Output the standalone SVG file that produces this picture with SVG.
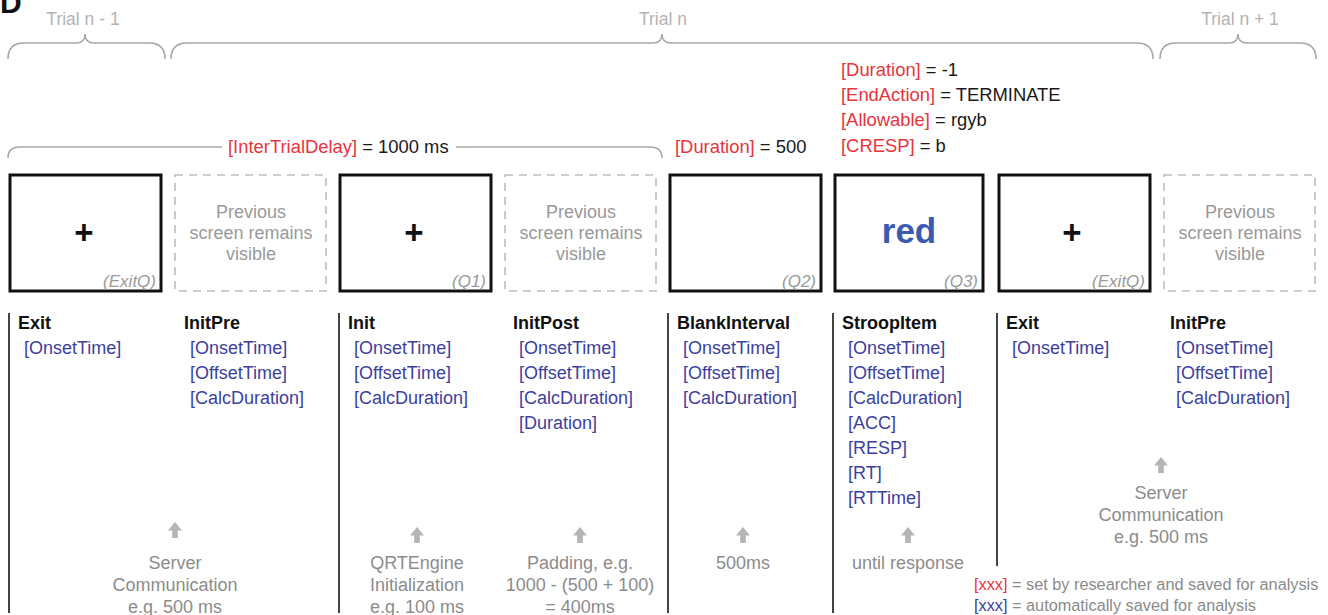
<svg xmlns="http://www.w3.org/2000/svg" width="1328" height="615" viewBox="0 0 1328 615">
<defs>
<style>
text{font-family:"Liberation Sans",Arial,sans-serif;}
.trial{font-size:17.5px;fill:#b3b3b3;text-anchor:middle;}
.brace{fill:none;stroke:#a8a8a8;stroke-width:1.6;}
.param{font-size:18.4px;fill:#1a1a1a;}
.r{fill:#e8343c;}
.b{fill:#3c3f9e;}
.solid{fill:#fff;stroke:#111;stroke-width:3;}
.dash{fill:#fff;stroke:#bdbdbd;stroke-width:1.6;stroke-dasharray:8 6;}
.prev{font-size:18px;fill:#999;text-anchor:middle;}
.q{font-size:17px;fill:#9a9a9a;font-style:italic;text-anchor:end;}
.plus{font-size:33px;font-weight:bold;fill:#111;text-anchor:middle;}
.hdr{font-size:18px;font-weight:bold;fill:#111;}
.item{font-size:18px;fill:#3c3f9e;}
.tl{stroke:#444;stroke-width:2;fill:none;}
.note{font-size:18px;fill:#8c8c8c;text-anchor:middle;}
.arr{fill:#b5b5b5;}
.leg{font-size:16.3px;fill:#8a8a8a;}
</style>
<path id="up" d="M0,0 L7,8.5 L2.8,8.5 L2.8,16 L-2.8,16 L-2.8,8.5 L-7,8.5 Z"/>
</defs>
<rect width="1328" height="615" fill="#fff"/>
<text x="0" y="13" font-size="30" font-weight="bold" fill="#111">D</text>

<g id="trial-braces">
<text class="trial" x="83" y="25">Trial n - 1</text>
<text class="trial" x="663" y="25">Trial n</text>
<text class="trial" x="1240" y="25">Trial n + 1</text>
<path class="brace" d="M8,59 Q8,43 24,43 H76 Q85,43 85,34 Q85,43 94,43 H149 Q165,43 165,59"/>
<path class="brace" d="M171,59 Q171,43 187,43 H653 Q662,43 662,34 Q662,43 671,43 H1137 Q1153,43 1153,59"/>
<path class="brace" d="M1160,59 Q1160,43 1176,43 H1229 Q1238,43 1238,34 Q1238,43 1247,43 H1300 Q1316,43 1316,59"/>
</g>

<g id="params">
<path class="brace" d="M8,158 Q8,147 20,147 H222 M456,147 H650 Q662,147 662,158"/>
<text class="param" x="228" y="153"><tspan class="r">[InterTrialDelay]</tspan> = 1000 ms</text>
<text class="param" x="675" y="153"><tspan class="r">[Duration]</tspan> = 500</text>
<text class="param" x="841" y="76"><tspan class="r">[Duration]</tspan> = -1</text>
<text class="param" x="841" y="101"><tspan class="r">[EndAction]</tspan> = TERMINATE</text>
<text class="param" x="841" y="126"><tspan class="r">[Allowable]</tspan> = rgyb</text>
<text class="param" x="841" y="152"><tspan class="r">[CRESP]</tspan> = b</text>
</g>

<g id="screen-exitq-1">
<rect class="solid" x="10" y="175" width="151" height="116"/>
<text class="plus" x="84" y="244">+</text>
<text class="q" x="156" y="287">(ExitQ)</text>
</g>
<g id="screen-prev-1">
<rect class="dash" x="175" y="175" width="151" height="116"/>
<text class="prev" x="251" y="218">Previous</text>
<text class="prev" x="251" y="239">screen remains</text>
<text class="prev" x="251" y="260">visible</text>
</g>
<g id="screen-q1">
<rect class="solid" x="340" y="175" width="151" height="116"/>
<text class="plus" x="414" y="244">+</text>
<text class="q" x="486" y="287">(Q1)</text>
</g>
<g id="screen-prev-2">
<rect class="dash" x="505" y="175" width="151" height="116"/>
<text class="prev" x="581" y="218">Previous</text>
<text class="prev" x="581" y="239">screen remains</text>
<text class="prev" x="581" y="260">visible</text>
</g>
<g id="screen-q2">
<rect class="solid" x="670" y="175" width="151" height="116"/>
<text class="q" x="816" y="287">(Q2)</text>
</g>
<g id="screen-q3">
<rect class="solid" x="835" y="175" width="148" height="116"/>
<text x="909" y="243" font-size="35" font-weight="bold" fill="#3a5bb0" text-anchor="middle">red</text>
<text class="q" x="978" y="287">(Q3)</text>
</g>
<g id="screen-exitq-2">
<rect class="solid" x="999" y="175" width="151" height="116"/>
<text class="plus" x="1072" y="244">+</text>
<text class="q" x="1145" y="287">(ExitQ)</text>
</g>
<g id="screen-prev-3">
<rect class="dash" x="1164" y="175" width="151" height="116"/>
<text class="prev" x="1240" y="218">Previous</text>
<text class="prev" x="1240" y="239">screen remains</text>
<text class="prev" x="1240" y="260">visible</text>
</g>

<g id="connectors">
<line class="tl" x1="9" y1="313" x2="9" y2="613"/>
<line class="tl" x1="339" y1="313" x2="339" y2="613"/>
<line class="tl" x1="668" y1="313" x2="668" y2="613"/>
<line class="tl" x1="833" y1="313" x2="833" y2="613"/>
<line class="tl" x1="997" y1="313" x2="997" y2="566"/>
</g>

<g id="obj-exit-1">
<text class="hdr" x="18" y="329">Exit</text>
<text class="item" x="24" y="354">[OnsetTime]</text>
</g>
<g id="obj-initpre-1">
<text class="hdr" x="184" y="329">InitPre</text>
<text class="item" x="190" y="354">[OnsetTime]</text>
<text class="item" x="190" y="379">[OffsetTime]</text>
<text class="item" x="190" y="404">[CalcDuration]</text>
<use href="#up" class="arr" x="175" y="522"/>
<text class="note" x="175" y="569">Server</text>
<text class="note" x="175" y="591">Communication</text>
<text class="note" x="175" y="613">e.g. 500 ms</text>
</g>
<g id="obj-init">
<text class="hdr" x="348" y="329">Init</text>
<text class="item" x="354" y="354">[OnsetTime]</text>
<text class="item" x="354" y="379">[OffsetTime]</text>
<text class="item" x="354" y="404">[CalcDuration]</text>
<use href="#up" class="arr" x="417" y="527"/>
<text class="note" x="417" y="569">QRTEngine</text>
<text class="note" x="417" y="591">Initialization</text>
<text class="note" x="417" y="613">e.g. 100 ms</text>
</g>
<g id="obj-initpost">
<text class="hdr" x="513" y="329">InitPost</text>
<text class="item" x="519" y="354">[OnsetTime]</text>
<text class="item" x="519" y="379">[OffsetTime]</text>
<text class="item" x="519" y="404">[CalcDuration]</text>
<text class="item" x="519" y="429">[Duration]</text>
<use href="#up" class="arr" x="580" y="527"/>
<text class="note" x="580" y="569">Padding, e.g.</text>
<text class="note" x="580" y="591">1000 - (500 + 100)</text>
<text class="note" x="580" y="613">= 400ms</text>
</g>
<g id="obj-blank">
<text class="hdr" x="677" y="329">BlankInterval</text>
<text class="item" x="683" y="354">[OnsetTime]</text>
<text class="item" x="683" y="379">[OffsetTime]</text>
<text class="item" x="683" y="404">[CalcDuration]</text>
<use href="#up" class="arr" x="743" y="527"/>
<text class="note" x="743" y="569">500ms</text>
</g>
<g id="obj-stroop">
<text class="hdr" x="842" y="329">StroopItem</text>
<text class="item" x="848" y="354">[OnsetTime]</text>
<text class="item" x="848" y="379">[OffsetTime]</text>
<text class="item" x="848" y="404">[CalcDuration]</text>
<text class="item" x="848" y="429">[ACC]</text>
<text class="item" x="848" y="454">[RESP]</text>
<text class="item" x="848" y="479">[RT]</text>
<text class="item" x="848" y="504">[RTTime]</text>
<use href="#up" class="arr" x="908" y="527"/>
<text class="note" x="908" y="569">until response</text>
</g>
<g id="obj-exit-2">
<text class="hdr" x="1006" y="329">Exit</text>
<text class="item" x="1012" y="354">[OnsetTime]</text>
</g>
<g id="obj-initpre-2">
<text class="hdr" x="1170" y="329">InitPre</text>
<text class="item" x="1176" y="354">[OnsetTime]</text>
<text class="item" x="1176" y="379">[OffsetTime]</text>
<text class="item" x="1176" y="404">[CalcDuration]</text>
<use href="#up" class="arr" x="1161" y="457"/>
<text class="note" x="1161" y="499">Server</text>
<text class="note" x="1161" y="521">Communication</text>
<text class="note" x="1161" y="543">e.g. 500 ms</text>
</g>

<g id="legend">
<text class="leg" x="974" y="590"><tspan class="r">[xxx]</tspan> = set by researcher and saved for analysis</text>
<text class="leg" x="974" y="611"><tspan class="b">[xxx]</tspan> = automatically saved for analysis</text>
</g>
</svg>
